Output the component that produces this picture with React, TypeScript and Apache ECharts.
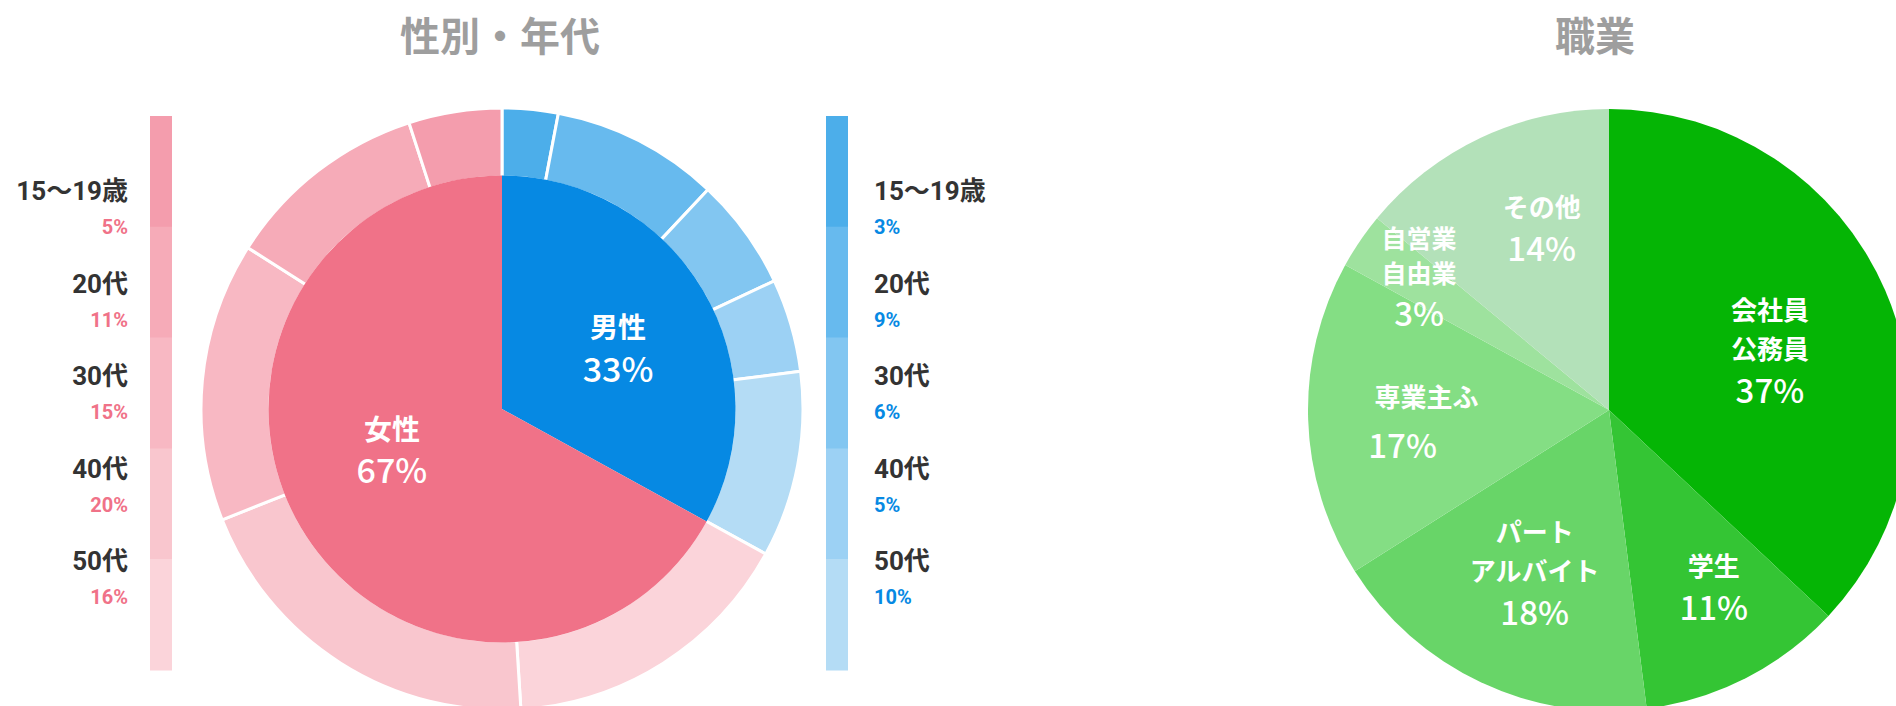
import React, { useEffect, useRef } from 'react';
import * as echarts from 'echarts';

// ---- data ----
const genderNames = ['男性', '女性'];
const genderValues = [33, 67];
const ageGroups = ['15〜19歳', '20代', '30代', '40代', '50代'];
const maleAges = [3, 9, 6, 5, 10];
const femaleAges = [5, 11, 15, 20, 16];
const jobNames = ['会社員\n公務員', '学生', 'パート\nアルバイト', '専業主ふ', '自営業\n自由業', 'その他'];
const jobValues = [37, 11, 18, 17, 3, 14];
const titles = ['性別・年代', '職業'];

// ---- styles ----
const genderColors = ['#0689e3', '#f07288'];
const maleRingColors = ['#4caeea', '#67baee', '#82c6f1', '#9cd1f4', '#b4dcf5'];
const femaleRingColors = ['#f49dad', '#f6abb8', '#f8b8c3', '#f9c6ce', '#fbd4da'];
const jobColors = ['#05b505', '#34c534', '#68d568', '#84de84', '#9ee29e', '#b3e1b9'];
const jobLabelOffsets = [[20, 1], [35, 40], [-9, 23], [-29, 3], [-63, -47], [-2, -44]];
const genderLabelOffsets = [[13, -1], [-7, -21]];

const CJK = '"Noto Sans CJK JP", "Noto Sans", sans-serif';
const LAT = 'Roboto, "Noto Sans CJK JP", sans-serif';

function wrapLines(name: string, key: string) {
  return name.split('\n').map((l) => `{${key}|${l}}`).join('\n');
}

export default function App() {
  const ref = useRef<HTMLDivElement>(null);
  useEffect(() => {
    document.body.style.margin = '0';
    const chart = echarts.init(ref.current!, undefined, { renderer: 'svg' });

    const ringData: any[] = [];
    ageGroups.forEach((g, i) => {
      ringData.push({ name: '男性 ' + g, value: maleAges[i], itemStyle: { color: maleRingColors[i] } });
    });
    for (let i = ageGroups.length - 1; i >= 0; i--) {
      ringData.push({ name: '女性 ' + ageGroups[i], value: femaleAges[i], itemStyle: { color: femaleRingColors[i] } });
    }

    const genderRich = {
      n: { color: '#fff', fontSize: 28, fontWeight: 'bold', fontFamily: CJK, lineHeight: 40 },
      p: { color: '#fff', fontSize: 34, fontWeight: 500, fontFamily: CJK, lineHeight: 42 },
    };
    const genderData = genderNames.map((n, i) => ({
      name: n,
      value: genderValues[i],
      itemStyle: { color: genderColors[i] },
      label: {
        offset: genderLabelOffsets[i],
        formatter: `{n|${n}}\n{p|${genderValues[i]}%}`,
      },
    }));

    const jobRich = (nSize: number, nLH: number, pPad: number[]) => ({
      n: { color: '#fff', fontSize: nSize, fontWeight: 'bold', fontFamily: CJK, lineHeight: nLH },
      p: { color: '#fff', fontSize: 33, fontWeight: 500, fontFamily: CJK, lineHeight: 44, padding: pPad },
    });
    const jobData = jobNames.map((n, i) => {
      let rich;
      if (i === 3) rich = jobRich(26, 52, [0, 48, 0, 0]);
      else if (i === 4) rich = jobRich(25, 35, [0, 0, 0, 0]);
      else rich = jobRich(26, 39, [0, 0, 0, 0]);
      return {
        name: n.replace('\n', ''),
        value: jobValues[i],
        itemStyle: { color: jobColors[i] },
        label: {
          offset: jobLabelOffsets[i],
          formatter: `${wrapLines(n, 'n')}\n{p|${jobValues[i]}%}`,
          rich,
        },
      };
    });

    const graphic: any[] = [];
    const titleX = [500, 1595];
    titles.forEach((t, i) => {
      graphic.push({
        type: 'text', x: titleX[i], y: 34,
        style: {
          text: t, fill: '#9e9e9e', font: `bold 40px ${CJK}`,
          align: 'center', verticalAlign: 'middle', textAlign: 'center', textVerticalAlign: 'middle',
        },
      });
    });
    const barTop = 116, segH = 110.8, labelTop = 191, labelStep = 92.5;
    const sides = [
      { barX: 150, textX: 128, align: 'right', colors: femaleRingColors, vals: femaleAges, pctColor: '#f07288' },
      { barX: 826, textX: 874, align: 'left', colors: maleRingColors, vals: maleAges, pctColor: '#0689e3' },
    ];
    sides.forEach((s) => {
      ageGroups.forEach((g, i) => {
        graphic.push({
          type: 'rect', shape: { x: s.barX, y: barTop + i * segH, width: 22, height: segH + 0.5 },
          style: { fill: s.colors[i] }, silent: true,
        });
        graphic.push({
          type: 'text', x: s.textX, y: labelTop + i * labelStep,
          style: {
            text: g, fill: '#333', font: `bold 26px ${LAT}`,
            align: s.align, verticalAlign: 'middle', textAlign: s.align, textVerticalAlign: 'middle',
          },
        });
        graphic.push({
          type: 'text', x: s.textX, y: labelTop + 36 + i * labelStep,
          style: {
            text: s.vals[i] + '%', fill: s.pctColor, font: `bold 20px ${LAT}`,
            align: s.align, verticalAlign: 'middle', textAlign: s.align, textVerticalAlign: 'middle',
          },
        });
      });
    });

    chart.setOption({
      animation: false,
      series: [
        {
          type: 'pie', center: [502, 409], radius: [232, 301], startAngle: 90, clockwise: true,
          silent: true, z: 1, label: { show: false }, labelLine: { show: false },
          emphasis: { disabled: true },
          itemStyle: { borderColor: '#fff', borderWidth: 3 },
          data: ringData,
        },
        {
          type: 'pie', center: [502, 409], radius: [0, 233.5], startAngle: 90, clockwise: true,
          silent: true, z: 3, avoidLabelOverlap: false, emphasis: { disabled: true },
          label: { show: true, position: 'inside', color: '#fff', textBorderWidth: 0, rich: genderRich },
          labelLine: { show: false },
          data: genderData,
        },
        {
          type: 'pie', center: [1609, 410], radius: [0, 301], startAngle: 90, clockwise: true,
          silent: true, z: 3, avoidLabelOverlap: false, emphasis: { disabled: true },
          label: { show: true, position: 'inside', color: '#fff', textBorderWidth: 0 },
          labelLine: { show: false },
          data: jobData,
        },
      ],
      graphic,
    });
    return () => chart.dispose();
  }, []);
  return <div ref={ref} style={{ width: 1896, height: 706 }} />;
}
